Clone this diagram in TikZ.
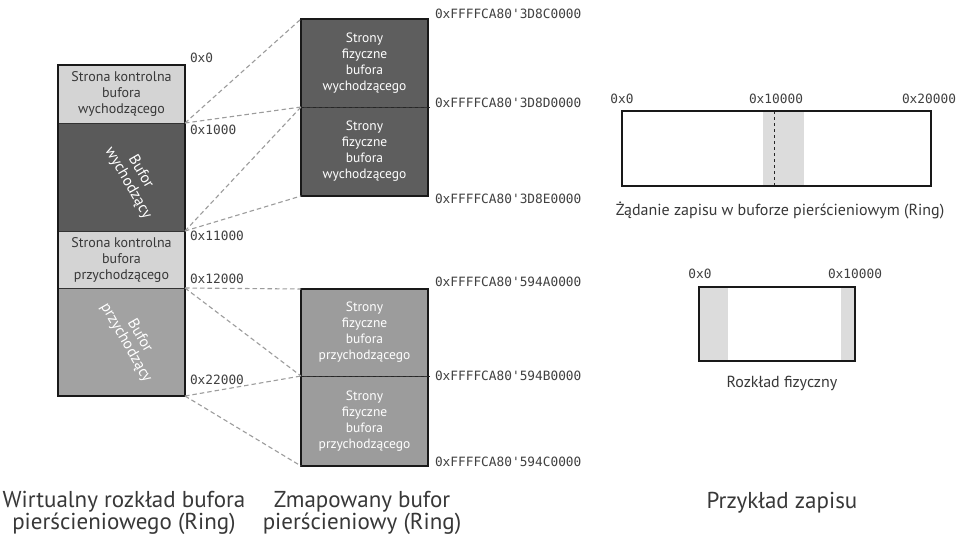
\documentclass[tikz,border=0pt]{standalone}
\usepackage{fontspec}
\setmainfont{PT Sans}
\newfontfamily\hexfont{DejaVu Sans Mono}
\begin{document}
\begin{tikzpicture}[x=1pt,y=-1pt,
  every node/.style={inner sep=0pt,outer sep=0pt},
  seg/.style={draw=black!80,line width=0.8pt,minimum width=127pt,anchor=north west},
  ctrl/.style={seg,fill=ctrlgray,text=txtdark,font=\fontsize{14}{16}\selectfont,align=center},
  outbuf/.style={seg,fill=outgray},
  inbuf/.style={seg,fill=ingray},
  phys/.style={seg,align=center,text=white,font=\fontsize{13.5}{16}\selectfont},
  rotlabel/.style={rotate=-60,text=white,font=\fontsize{15.5}{18}\selectfont},
  hex/.style={anchor=west,font=\hexfont\fontsize{12.8}{14}\selectfont,text=hexgray},
  hexc/.style={font=\hexfont\fontsize{12.8}{14}\selectfont,text=hexgray},
  link/.style={draw=linkgray,dashed,dash pattern=on 4.5pt off 3pt,line width=1.1pt},
  frame/.style={draw=black!90,line width=1.8pt},
  caption/.style={align=center,text=txtdark,font=\fontsize{23}{22}\selectfont},
  subcap/.style={text=txtdark,font=\fontsize{16}{18}\selectfont},
  band/.style={fill=bandgray,draw=none}
]
\definecolor{ctrlgray}{HTML}{D4D4D4}
\definecolor{outgray}{HTML}{5A5A5A}
\definecolor{ingray}{HTML}{A2A2A2}
\definecolor{physdark}{HTML}{5E5E5E}
\definecolor{physlight}{HTML}{9C9C9C}
\definecolor{txtdark}{HTML}{383838}
\definecolor{hexgray}{HTML}{404040}
\definecolor{linkgray}{HTML}{9C9C9C}
\definecolor{bandgray}{HTML}{DCDCDC}
\useasboundingbox[fill=white] (0,0) rectangle (964,539);

% virtual layout of the ring buffer
\node[ctrl,minimum height=58pt] (cp1) at (58,65) {Strona kontrolna\\bufora\\wychodzącego};
\node[outbuf,minimum height=108pt] (ob) at (58,123) {};
\node[ctrl,minimum height=57pt] (cp2) at (58,231) {Strona kontrolna\\bufora\\przychodzącego};
\node[inbuf,minimum height=108pt] (ib) at (58,288) {};
\draw[frame] (cp1.north west) rectangle (ib.south east);
% slanted labels, one node per line
\node[rotlabel] (obl1) at (142,171) {Bufor};
\node[rotlabel] (obl2) at (128,183) {wychodzący};
\node[rotlabel] (ibl1) at (141,335) {Bufor};
\node[rotlabel] (ibl2) at (126,343) {przychodzący};

\node[hex] (v0) at (190,58) {0x0};
\node[hex] (v1) at (190,130) {0x1000};
\node[hex] (v2) at (190,236) {0x11000};
\node[hex] (v3) at (190,279) {0x12000};
\node[hex] (v4) at (190,380) {0x22000};

% mapped physical pages
\node[phys,fill=physdark,minimum height=88pt] (mo1) at (301,19) {Strony\\fizyczne\\bufora\\wychodzącego};
\node[phys,fill=physdark,minimum height=89pt] (mo2) at (301,107) {Strony\\fizyczne\\bufora\\wychodzącego};
\draw[frame] (mo1.north west) rectangle (mo2.south east);
\draw[dashed,line width=0.9pt,black!85] (mo1.south west) -- ([xshift=3pt]mo1.south east);

\node[phys,fill=physlight,minimum height=87pt] (mi1) at (301,289) {Strony\\fizyczne\\bufora\\przychodzącego};
\node[phys,fill=physlight,minimum height=90pt] (mi2) at (301,376) {Strony\\fizyczne\\bufora\\przychodzącego};
\draw[frame] (mi1.north west) rectangle (mi2.south east);
\draw[dashed,line width=0.9pt,black!85] (mi1.south west) -- ([xshift=3pt]mi1.south east);

\node[hex] (p0) at (435,14) {0xFFFFCA80'3D8C0000};
\node[hex] (p1) at (435,103) {0xFFFFCA80'3D8D0000};
\node[hex] (p2) at (435,199) {0xFFFFCA80'3D8E0000};
\node[hex] (p3) at (435,282) {0xFFFFCA80'594A0000};
\node[hex] (p4) at (435,376) {0xFFFFCA80'594B0000};
\node[hex] (p5) at (435,462) {0xFFFFCA80'594C0000};

% mapping between virtual and physical pages
\draw[link] (cp1.south east) -- (mo1.north west);
\draw[link] (cp1.south east) -- (mo2.north west);
\draw[link] (ob.south east) -- (mo2.north west);
\draw[link] (ob.south east) -- (mo2.south west);
\draw[link] (cp2.south east) -- (mi1.north west);
\draw[link] (cp2.south east) -- (mi2.north west);
\draw[link] (ib.south east) -- (mi2.north west);
\draw[link] (ib.south east) -- (mi2.south west);

% write example: request in the ring buffer
\node[band,minimum width=41pt,minimum height=75pt,anchor=north west] (req) at (763,111) {};
\node[draw=none,minimum width=309pt,minimum height=75pt,anchor=north west] (ring) at (622,111) {};
\draw[dashed,line width=0.9pt,black!85] (req.north -| 774,0) coordinate (rt) -- (req.south -| 774,0) coordinate (rb);
\draw[frame] (ring.north west) rectangle (ring.south east);
\node[hexc] (r0) at (622,99) {0x0};
\node[hexc] (r1) at (776,99) {0x10000};
\node[hexc] (r2) at (929,99) {0x20000};
\node[subcap] (rc) at (780,210) {Żądanie zapisu w buforze pierścieniowym (Ring)};

% write example: physical layout
\node[band,minimum width=29pt,minimum height=74pt,anchor=north west] (pl) at (699,287) {};
\node[band,minimum width=14pt,minimum height=74pt,anchor=north west] (pr) at (841,287) {};
\node[draw=none,minimum width=156pt,minimum height=74pt,anchor=north west] (phy) at (699,287) {};
\draw[frame] (phy.north west) rectangle (phy.south east);
\node[hexc] (f0) at (700,274) {0x0};
\node[hexc] (f1) at (855,274) {0x10000};
\node[subcap] (fc) at (782,383) {Rozkład fizyczny};

% column captions
\node[caption] (c1) at (124,513) {Wirtualny rozkład bufora\\pierścieniowego (Ring)};
\node[caption] (c2) at (362,513) {Zmapowany bufor\\pierścieniowy (Ring)};
\node[caption] (c3) at (782,503) {Przykład zapisu};
\end{tikzpicture}
\end{document}
